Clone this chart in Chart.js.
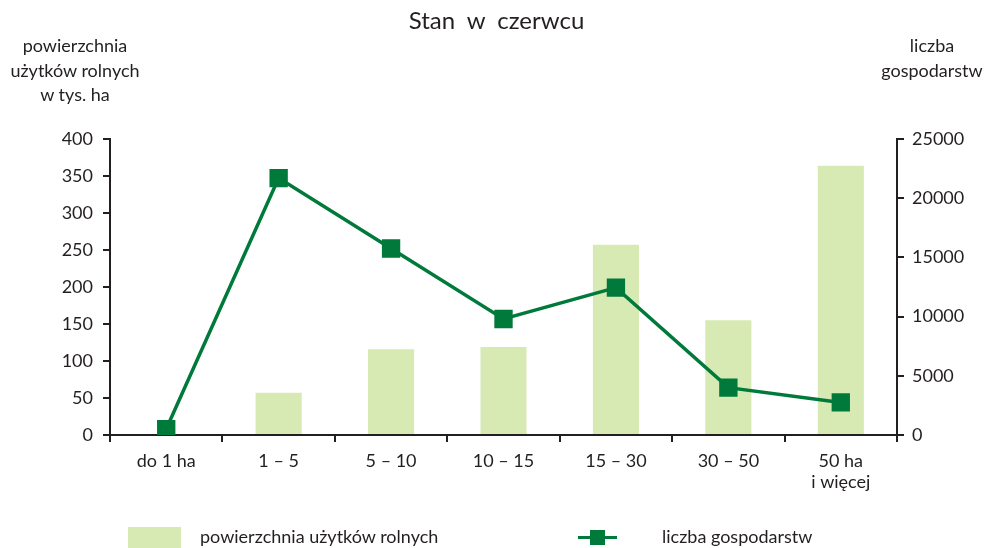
<!DOCTYPE html>
<html>
<head>
<meta charset="utf-8">
<script src="https://cdn.jsdelivr.net/npm/chart.js@4"></script>
<style>
  body { margin: 0; background: #fff; font-family: Lato, "Open Sans", sans-serif; color: #231f20; }
  #wrap { position: relative; width: 993px; height: 548px; }
  .txt { position: absolute; font-size: 18px; line-height: 24.5px; text-align: center; white-space: nowrap; }
  #title { left: 0; width: 993px; top: 8px; font-size: 24px; text-align: center; word-spacing: 6px; }
  #leftTitle { left: 5px; width: 140px; top: 33px; }
  #rightTitle { left: 862px; width: 140px; top: 33px; }
  .legBox { position: absolute; left: 128px; top: 527px; width: 53px; height: 21px; background: #d8eab3; }
  .legLine { position: absolute; left: 578px; top: 536px; width: 39px; height: 3px; background: #007a3b; }
  .legMark { position: absolute; left: 590px; top: 530px; width: 15px; height: 15px; background: #007a3b; }
</style>
</head>
<body>
<div id="wrap">
  <canvas id="chart" width="993" height="548"></canvas>
  <div id="title" class="txt">Stan w czerwcu</div>
  <div id="leftTitle" class="txt">powierzchnia<br>użytków rolnych<br>w tys. ha</div>
  <div id="rightTitle" class="txt">liczba<br>gospodarstw</div>
  <div class="legBox"></div>
  <div class="txt" style="left:200px; top:524px; text-align:left;">powierzchnia użytków rolnych</div>
  <div class="legLine"></div>
  <div class="legMark"></div>
  <div class="txt" style="left:662px; top:524px; text-align:left;">liczba gospodarstw</div>
</div>
<script>
const categories = ['do 1 ha', '1 – 5', '5 – 10', '10 – 15', '15 – 30', '30 – 50', ['50 ha', 'i więcej']];
const powierzchnia = [0, 57, 116, 119, 257, 155, 364];
const gospodarstwa = [500, 21700, 15750, 9800, 12450, 4000, 2750];

const leftTicks = [0, 50, 100, 150, 200, 250, 300, 350, 400];
const rightTicks = [0, 5000, 10000, 15000, 20000, 25000];

const dark = '#231f20';
const green = '#007a3b';
const font = { family: 'Lato, "Open Sans", sans-serif', size: 18 };

const ctx = document.getElementById('chart').getContext('2d');
new Chart(ctx, {
    data: {
        labels: categories,
        datasets: [{
            type: 'line',
            label: 'liczba gospodarstw',
            data: gospodarstwa,
            yAxisID: 'y2',
            borderColor: green,
            backgroundColor: green,
            borderWidth: 3.5,
            pointStyle: 'rect',
            pointRadius: 10.5,
            pointHoverRadius: 10.5,
            tension: 0,
            order: 0
        }, {
            type: 'bar',
            label: 'powierzchnia użytków rolnych',
            data: powierzchnia,
            yAxisID: 'y',
            backgroundColor: '#d8eab3',
            barPercentage: 0.41,
            categoryPercentage: 1,
            order: 1
        }]
    },
    options: {
        responsive: false,
        animation: false,
        plugins: {
            legend: { display: false },
            tooltip: { enabled: false }
        },
        layout: {
            padding: { top: 139, left: 0, right: 0, bottom: 0 }
        },
        scales: {
            x: {
                offset: true,
                grid: {
                    offset: true,
                    drawOnChartArea: false,
                    drawTicks: true,
                    tickLength: 7,
                    color: dark,
                    lineWidth: 2
                },
                border: { color: dark, width: 2 },
                ticks: { color: dark, font: font, padding: 8, maxRotation: 0 },
                afterFit: s => { s.height = 113; }
            },
            y: {
                position: 'left',
                min: 0,
                max: 400,
                afterBuildTicks: s => { s.ticks = leftTicks.map(v => ({ value: v })); },
                grid: { drawOnChartArea: false, tickLength: 7, color: dark, lineWidth: 2 },
                border: { color: dark, width: 2 },
                ticks: { color: dark, font: font, padding: 10 },
                afterFit: s => { s.width = 110; }
            },
            y2: {
                position: 'right',
                min: 0,
                max: 25000,
                afterBuildTicks: s => { s.ticks = rightTicks.map(v => ({ value: v })); },
                grid: { drawOnChartArea: false, tickLength: 7, color: dark, lineWidth: 2 },
                border: { color: dark, width: 2 },
                ticks: { color: dark, font: font, padding: 8, callback: v => String(v) },
                afterFit: s => { s.width = 96; }
            }
        }
    }
});
</script>
</body>
</html>
